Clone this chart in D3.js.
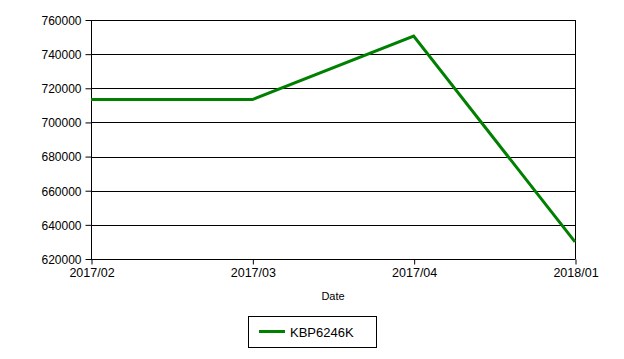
<!DOCTYPE html>
<html><head><meta charset="utf-8">
<script src="https://cdn.jsdelivr.net/npm/d3@7"></script>
<style>
body{margin:0;background:#fff;}
text{font-family:"Liberation Sans",Arial,sans-serif;}
</style></head>
<body>
<svg id="c" width="624" height="359"></svg>
<script>
const categories = ["2017/02","2017/03","2017/04","2018/01"];
const seriesName = "KBP6246K";
const values = [713400, 713400, 750600, 630000];
const yTicks = [620000,640000,660000,680000,700000,720000,740000,760000];

const svg = d3.select("#c");
const L=91, R=575, T=20, B=259;
const x = d3.scalePoint().domain(categories).range([L,R]);
const y = d3.scaleLinear().domain([620000,760000]).range([B,T]);

// gridlines
svg.append("g").selectAll("line").data(yTicks).join("line")
  .attr("x1",L).attr("x2",R).attr("y1",d=>Math.round(y(d))+0.5).attr("y2",d=>Math.round(y(d))+0.5)
  .attr("stroke","#000").attr("stroke-width",1);
// right border
svg.append("line").attr("x1",R+0.5).attr("x2",R+0.5).attr("y1",T).attr("y2",B).attr("stroke","#000");

const ya = svg.append("g").attr("transform",`translate(${L+0.5},0.5)`)
  .call(d3.axisLeft(y).tickValues(yTicks).tickSize(6).tickPadding(4).tickFormat(d3.format("d")));
ya.select(".domain").attr("d",`M0,${T-0.5}V${B}`);
ya.selectAll("text").attr("font-size","12px").attr("fill","#000").attr("font-family","'Liberation Sans',Arial,sans-serif");
ya.selectAll("line").attr("transform","translate(0,-0.5)");

const xa = svg.append("g").attr("transform",`translate(0.5,${B+0.5})`)
  .call(d3.axisBottom(x).tickSize(5).tickPadding(4));
xa.select(".domain").attr("d",`M${L},0H${R}`);
xa.selectAll("text").attr("font-size","12.5px").attr("fill","#000").attr("font-family","'Liberation Sans',Arial,sans-serif");

svg.append("text").attr("x",(L+R)/2).attr("y",300).attr("text-anchor","middle")
  .attr("font-size","11px").text("Date");

const line = d3.line().x((d,i)=>x(categories[i])).y(d=>y(d));
svg.append("path").datum(values).attr("d",line).attr("fill","none")
  .attr("stroke","#008000").attr("stroke-width",3);

// legend
const lg = svg.append("g");
lg.append("rect").attr("x",248.5).attr("y",316.5).attr("width",128).attr("height",31)
  .attr("fill","#fff").attr("stroke","#000");
lg.append("line").attr("x1",259).attr("x2",285).attr("y1",331.5).attr("y2",331.5)
  .attr("stroke","#008000").attr("stroke-width",3);
lg.append("text").attr("x",290).attr("y",336.5).attr("font-size","13px").text(seriesName);
</script>
</body></html>
